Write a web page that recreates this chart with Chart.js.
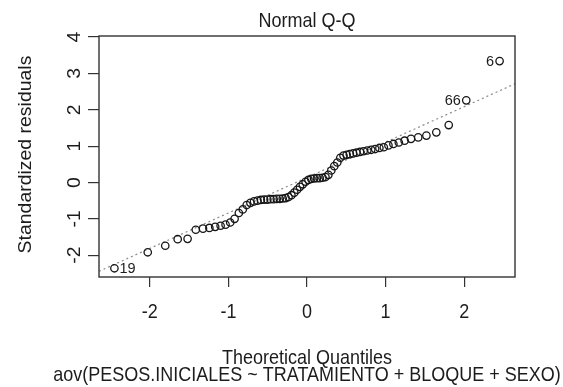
<!DOCTYPE html>
<html>
<head>
<meta charset="utf-8">
<script src="https://cdn.jsdelivr.net/npm/chart.js@4/dist/chart.umd.min.js"></script>
<style>
  html, body { margin: 0; padding: 0; background: #ffffff; }
  #c { display: block; }
</style>
</head>
<body>
<canvas id="c" width="563" height="387"></canvas>
<script>
// ---- data ----
const theoreticalQuantiles = [
  -2.450, -2.026, -1.803, -1.645, -1.519, -1.415, -1.323, -1.242, -1.168, -1.099,
  -1.036, -0.977, -0.921, -0.867, -0.817, -0.767, -0.720, -0.674, -0.630, -0.587,
  -0.545, -0.504, -0.464, -0.424, -0.385, -0.347, -0.309, -0.272, -0.235, -0.198,
  -0.162, -0.126, -0.090, -0.054, -0.018,  0.018,  0.054,  0.090,  0.126,  0.162,
   0.198,  0.235,  0.272,  0.309,  0.347,  0.385,  0.424,  0.464,  0.504,  0.545,
   0.587,  0.630,  0.674,  0.720,  0.767,  0.817,  0.867,  0.921,  0.977,  1.036,
   1.099,  1.168,  1.242,  1.323,  1.415,  1.519,  1.645,  1.803,  2.026,  2.450
];
const standardizedResiduals = [
  -2.36, -1.92, -1.74, -1.56, -1.55, -1.30, -1.27, -1.25, -1.22, -1.19,
  -1.16, -1.10, -1.00, -0.84, -0.74, -0.62, -0.56, -0.52, -0.50, -0.48,
  -0.47, -0.47, -0.46, -0.46, -0.45, -0.45, -0.44, -0.43, -0.40, -0.35,
  -0.28, -0.20, -0.12, -0.05,  0.02,  0.07,  0.10,  0.11,  0.12,  0.12,
   0.13,  0.15,  0.21,  0.33,  0.45,  0.55,  0.68,  0.74,  0.76,  0.78,
   0.80,  0.82,  0.84,  0.86,  0.88,  0.90,  0.92,  0.95,  0.97,  1.02,
   1.06,  1.10,  1.15,  1.20,  1.24,  1.29,  1.38,  1.58,  2.26,  3.34
];
const pointIds = ['19', '66', '6'];
const pointIdIndex = [0, 68, 69];
const pointIdSide = ['right', 'left', 'left'];
const xTicks = [-2, -1, 0, 1, 2];
const yTicks = [-2, -1, 0, 1, 2, 3, 4];
const xRange = [-2.646, 2.646];
const yRange = [-2.60, 4.03];
const qqLineIntercept = 0.136;
const qqLineSlope = 0.975;
const titleText = 'Normal Q-Q';
const xTitle = 'Theoretical Quantiles';
const subTitle = 'aov(PESOS.INICIALES ~ TRATAMIENTO + BLOQUE + SEXO)';
const yTitle = 'Standardized residuals';

// ---- build library structures ----
const points = theoreticalQuantiles.map((q, i) => ({ x: q, y: standardizedResiduals[i] }));
const qqLine = xRange.map(x => ({ x: x, y: qqLineIntercept + qqLineSlope * x }));

const FONT = '"Liberation Sans", Arial, sans-serif';
const INK = '#1c1c1c';
const SY = 1.08; // slight vertical stretch of the reference's text

function txt(ctx, s, x, y, size, align, rot) {
  ctx.save();
  ctx.translate(x, y);
  if (rot) { ctx.rotate(-Math.PI / 2); ctx.scale(SY, 1); } else { ctx.scale(1, SY); }
  ctx.font = size + 'px ' + FONT;
  ctx.fillStyle = INK;
  ctx.textAlign = align;
  ctx.textBaseline = 'alphabetic';
  ctx.fillText(s, 0, 0);
  ctx.restore();
}

const decor = {
  id: 'decor',
  afterDraw(chart) {
    const ctx = chart.ctx;
    const a = chart.chartArea;
    const xs = chart.scales.x, ys = chart.scales.y;
    // box
    ctx.save();
    ctx.strokeStyle = '#333';
    ctx.lineWidth = 1.4;
    ctx.strokeRect(a.left, a.top, a.right - a.left, a.bottom - a.top);
    ctx.restore();
    // tick labels
    xTicks.forEach(v => txt(ctx, String(v), xs.getPixelForValue(v), 318, 18, 'center', false));
    yTicks.forEach(v => txt(ctx, String(v), 80, ys.getPixelForValue(v), 18, 'center', true));
    // titles
    const cx = (a.left + a.right) / 2;
    txt(ctx, titleText, cx, 27, 18, 'center', false);
    txt(ctx, xTitle, cx, 364, 18, 'center', false);
    txt(ctx, subTitle, cx, 381, 18, 'center', false);
    txt(ctx, yTitle, 31, (a.top + a.bottom) / 2 - 2, 18, 'center', true);
    // point id labels
    pointIds.forEach((id, k) => {
      const p = points[pointIdIndex[k]];
      const px = xs.getPixelForValue(p.x), py = ys.getPixelForValue(p.y);
      ctx.save();
      ctx.font = '14.5px ' + FONT;
      ctx.fillStyle = INK;
      ctx.textBaseline = 'middle';
      if (pointIdSide[k] === 'right') { ctx.textAlign = 'left'; ctx.fillText(id, px + 5, py + 0.5); }
      else { ctx.textAlign = 'right'; ctx.fillText(id, px - 5.5, py + 0.5); }
      ctx.restore();
    });
  }
};

new Chart(document.getElementById('c'), {
  type: 'scatter',
  data: {
    datasets: [
      {
        type: 'line',
        data: qqLine,
        borderColor: '#8a8a8a',
        borderWidth: 1.2,
        borderDash: [2, 3],
        pointRadius: 0,
        fill: false,
        order: 2
      },
      {
        data: points,
        pointStyle: 'circle',
        pointRadius: 3.7,
        borderColor: '#161616',
        backgroundColor: 'rgba(0,0,0,0)',
        borderWidth: 1.3,
        order: 1
      }
    ]
  },
  options: {
    responsive: false,
    animation: false,
    events: [],
    layout: { padding: { top: 36, right: 48, left: 0, bottom: 0 } },
    plugins: { legend: { display: false }, tooltip: { enabled: false }, title: { display: false } },
    scales: {
      x: {
        type: 'linear',
        min: xRange[0], max: xRange[1],
        afterFit(s) { s.height = 110; },
        afterBuildTicks(s) { s.ticks = xTicks.map(v => ({ value: v })); },
        ticks: { display: false, includeBounds: false },
        grid: { drawOnChartArea: false, drawTicks: true, tickLength: 10, color: '#333', lineWidth: 1.2 },
        border: { display: false }
      },
      y: {
        type: 'linear',
        min: yRange[0], max: yRange[1],
        afterFit(s) { s.width = 99; },
        afterBuildTicks(s) { s.ticks = yTicks.map(v => ({ value: v })); },
        ticks: { display: false, includeBounds: false },
        grid: { drawOnChartArea: false, drawTicks: true, tickLength: 11, color: '#333', lineWidth: 1.2 },
        border: { display: false }
      }
    }
  },
  plugins: [decor]
});
</script>
</body>
</html>
